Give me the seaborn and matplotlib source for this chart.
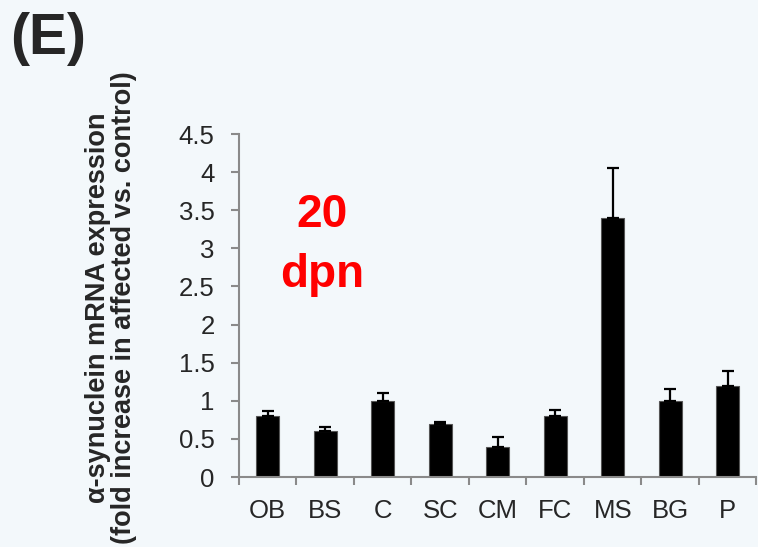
import numpy as np
import pandas as pd
import matplotlib
matplotlib.use("Agg")
import matplotlib.pyplot as plt
import seaborn as sns

regions = ["OB", "BS", "C", "SC", "CM", "FC", "MS", "BG", "P"]
fold_change = [0.80, 0.60, 1.00, 0.70, 0.40, 0.80, 3.40, 1.00, 1.20]
err_upper = [0.06, 0.05, 0.10, 0.02, 0.12, 0.08, 0.66, 0.15, 0.19]
yticks = [0, 0.5, 1, 1.5, 2, 2.5, 3, 3.5, 4, 4.5]
ytick_labels = ["0", "0.5", "1", "1.5", "2", "2.5", "3", "3.5", "4", "4.5"]

df = pd.DataFrame({"region": regions, "fold": fold_change})

sns.set_style("white")
plt.rcParams["font.family"] = ["Liberation Sans", "DejaVu Sans"]

bg = "#f3f8fb"
axis_grey = "#8a8a8a"

fig = plt.figure(figsize=(7.58, 5.47), dpi=100, facecolor=bg)
ax = fig.add_axes([0.3153, 0.1279, 0.6827, 0.6271])
ax.set_facecolor("none")

sns.barplot(data=df, x="region", y="fold", order=regions, color="black",
            width=0.4, errorbar=None, edgecolor="#555555", linewidth=0.8, ax=ax)
ax.errorbar(np.arange(len(regions)), fold_change,
            yerr=[np.zeros(len(regions)), err_upper],
            fmt="none", ecolor="black", elinewidth=1.6, capsize=4.5, capthick=1.6)

ax.set_xlim(-0.5, len(regions) - 0.5)
ax.set_ylim(0, 4.5)
ax.set_yticks(yticks)
ax.set_yticklabels(ytick_labels)
ax.set_xticks(np.arange(len(regions)))
ax.set_xticklabels(regions)
ax.set_xticks(np.arange(len(regions) + 1) - 0.5, minor=True)

for side in ["top", "right"]:
    ax.spines[side].set_visible(False)
for side in ["left", "bottom"]:
    ax.spines[side].set_color(axis_grey)
    ax.spines[side].set_linewidth(1.5)

ax.tick_params(axis="y", which="major", direction="out", length=5.5, width=1.5,
               color=axis_grey, labelsize=18.5, pad=12, left=True)
ax.tick_params(axis="x", which="major", length=0, labelsize=18.5, pad=16)
ax.tick_params(axis="x", which="minor", direction="out", length=5.5, width=1.5,
               color=axis_grey, bottom=True)

ax.set_xlabel("")
ax.set_ylabel("")
fig.text(0.146, 0.437,
         "α-synuclein mRNA expression\n(fold increase in affected vs. control)",
         fontsize=19.5, fontweight="bold", linespacing=1.0, rotation=90,
         ha="center", va="center", multialignment="center")

fig.text(0.425, 0.585, "20", color="red", fontsize=33, fontweight="bold",
         ha="center", va="baseline")
fig.text(0.425, 0.475, "dpn", color="red", fontsize=33, fontweight="bold",
         ha="center", va="baseline")
fig.text(0.014, 0.978, "(E)", fontsize=41, fontweight="bold", ha="left", va="top")

plt.savefig("out.png", dpi=100, facecolor=bg)
plt.close()
